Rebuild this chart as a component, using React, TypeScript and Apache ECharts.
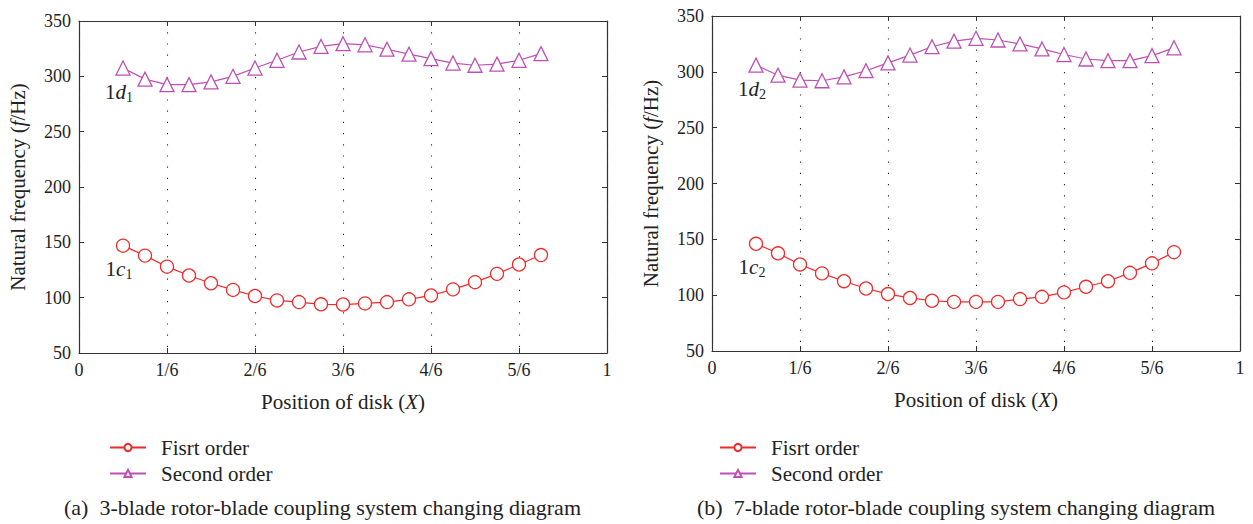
import React, { useEffect, useRef } from "react";
import * as echarts from "echarts";

// Disk positions in units of 1/6 of the shaft length
const positions = [0.5, 0.75, 1, 1.25, 1.5, 1.75, 2, 2.25, 2.5, 2.75, 3, 3.25, 3.5, 3.75, 4, 4.25, 4.5, 4.75, 5, 5.25];

// (a) 3-blade system
const firstOrderA = [147, 138, 128, 120, 113, 107, 101.5, 97.5, 96, 94, 93.8, 94.8, 96, 98.5, 102, 107.5, 114, 121.5, 130, 138.5];
const secondOrderA = [307.5, 297.5, 292.5, 292.5, 295, 300, 307.5, 314.5, 322, 327, 329.5, 328.5, 324.5, 320, 316, 312, 310, 311, 314.5, 320.5];

// (b) 7-blade system
const firstOrderB = [146, 137.5, 127.5, 119.5, 112.5, 106, 101, 97.5, 95, 94, 94, 94, 96.5, 98.5, 102.5, 107.5, 112.5, 120, 128.5, 138.5];
const secondOrderB = [306, 297, 292.5, 292, 295.5, 301, 308, 315, 322.5, 327.5, 330, 328.5, 325, 320.5, 315.5, 311.5, 310, 310, 314.5, 321.5];

const xTickLabels = ["0", "1/6", "2/6", "3/6", "4/6", "5/6", "1"];
const seriesNames = ["Fisrt order", "Second order"];
const captions = [
  "(a)  3-blade rotor-blade coupling system changing diagram",
  "(b)  7-blade rotor-blade coupling system changing diagram",
];
const curveTags = [
  ["1", "d", "1"],
  ["1", "c", "1"],
  ["1", "d", "2"],
  ["1", "c", "2"],
];

const FONT = "Liberation Serif";
const RED = "#ee2b2b";
const MAG = "#c04fb3";
const AXIS = "#333";
const TXT = "#222";

export default function App() {
  const ref = useRef<HTMLDivElement>(null);

  useEffect(() => {
    if (!ref.current) return;
    const chart = echarts.init(ref.current, undefined, { renderer: "svg" });

    const grids = [
      { left: 79, top: 21, width: 528, height: 332 },
      { left: 712, top: 16, width: 528, height: 335 },
    ];

    const titleRich = {
      n: { fontFamily: FONT, fontSize: 21, color: TXT },
      i: { fontFamily: FONT, fontSize: 21, color: TXT, fontStyle: "italic" },
    };

    const xAxes: any[] = [];
    const yAxes: any[] = [];
    grids.forEach((_, gi) => {
      xAxes.push({
        type: "value",
        gridIndex: gi,
        position: "bottom",
        min: 0,
        max: 6,
        interval: 1,
        name: "{n|Position of disk (}{i|X}{n|)}",
        nameLocation: "middle",
        nameGap: 38,
        nameTextStyle: { rich: titleRich },
        axisLine: { show: true, onZero: false, lineStyle: { color: AXIS, width: 1.2 } },
        axisTick: { show: true, inside: true, length: 5, lineStyle: { color: AXIS } },
        axisLabel: {
          fontFamily: FONT,
          fontSize: 18,
          color: TXT,
          margin: 8,
          formatter: (v: number) => xTickLabels[Math.round(v)] ?? "",
        },
        splitLine: {
          show: true,
          lineStyle: { color: "#222", width: 1.1, type: [1.2, 10] },
        },
      });
      xAxes.push({
        type: "value",
        gridIndex: gi,
        position: "top",
        min: 0,
        max: 6,
        interval: 1,
        axisLine: { show: true, onZero: false, lineStyle: { color: AXIS, width: 1.2 } },
        axisTick: { show: true, inside: true, length: 5, lineStyle: { color: AXIS } },
        axisLabel: { show: false },
        splitLine: { show: false },
      });
      yAxes.push({
        type: "value",
        gridIndex: gi,
        position: "left",
        min: 50,
        max: 350,
        interval: 50,
        name: "{n|Natural frequency (}{i|f}{n|/Hz)}",
        nameLocation: "middle",
        nameGap: 51,
        nameTextStyle: { rich: titleRich },
        axisLine: { show: true, onZero: false, lineStyle: { color: AXIS, width: 1.2 } },
        axisTick: { show: true, inside: true, length: 5, lineStyle: { color: AXIS } },
        axisLabel: { fontFamily: FONT, fontSize: 18, color: TXT, margin: 8 },
        splitLine: { show: false },
      });
      yAxes.push({
        type: "value",
        gridIndex: gi,
        position: "right",
        min: 50,
        max: 350,
        interval: 50,
        axisLine: { show: true, onZero: false, lineStyle: { color: AXIS, width: 1.2 } },
        axisTick: { show: true, inside: true, length: 5, lineStyle: { color: AXIS } },
        axisLabel: { show: false },
        splitLine: { show: false },
      });
    });

    const tagRich = {
      a: { fontFamily: FONT, fontSize: 21, color: TXT },
      b: { fontFamily: FONT, fontSize: 21, color: TXT, fontStyle: "italic" },
      c: { fontFamily: FONT, fontSize: 14, color: TXT, padding: [11, 0, 0, 0] },
    };

    const makeSeries = (
      name: string,
      values: number[],
      gi: number,
      color: string,
      symbol: string,
      size: number,
      tag: string[]
    ) => ({
      name,
      type: "line",
      xAxisIndex: gi * 2,
      yAxisIndex: gi * 2,
      data: positions.map((p, i) => {
        const pt: any = { value: [p, values[i]] };
        if (i === 0) {
          pt.label = {
            show: true,
            position: "bottom",
            distance: 4,
            offset: [-4, 0],
            formatter: `{a|${tag[0]}}{b|${tag[1]}}{c|${tag[2]}}`,
            rich: tagRich,
          };
        }
        return pt;
      }),
      symbol,
      symbolSize: size,
      showSymbol: true,
      lineStyle: { color, width: 1.2 },
      itemStyle: { color: "#fff", borderColor: color, borderWidth: 1.3 },
      label: { show: false },
      emphasis: { disabled: true },
    });

    const series = [
      makeSeries(seriesNames[0], firstOrderA, 0, RED, "circle", 13, curveTags[1]),
      makeSeries(seriesNames[1], secondOrderA, 0, MAG, "triangle", 14, curveTags[0]),
      makeSeries(seriesNames[0], firstOrderB, 1, RED, "circle", 13, curveTags[3]),
      makeSeries(seriesNames[1], secondOrderB, 1, MAG, "triangle", 14, curveTags[2]),
    ];

    const legendBase = {
      orient: "vertical",
      itemWidth: 36,
      itemHeight: 9,
      itemGap: 5,
      selectedMode: false,
      data: seriesNames,
      textStyle: { fontFamily: FONT, fontSize: 21, color: TXT, padding: [0, 0, 0, 10] },
    };

    chart.setOption({
      animation: false,
      backgroundColor: "#fff",
      grid: grids.map((g) => ({ ...g, containLabel: false })),
      xAxis: xAxes,
      yAxis: yAxes,
      legend: [
        { ...legendBase, left: 104, top: 432 },
        { ...legendBase, left: 714, top: 432 },
      ],
      series,
      graphic: [
        {
          type: "text",
          left: 64,
          top: 496,
          style: { text: captions[0], font: `22px "${FONT}"`, fill: TXT },
        },
        {
          type: "text",
          left: 697,
          top: 496,
          style: { text: captions[1], font: `22px "${FONT}"`, fill: TXT },
        },
      ],
    });

    return () => chart.dispose();
  }, []);

  return (
    <div
      ref={ref}
      style={{ position: "fixed", left: 0, top: 0, width: 1253, height: 524, background: "#fff" }}
    />
  );
}
